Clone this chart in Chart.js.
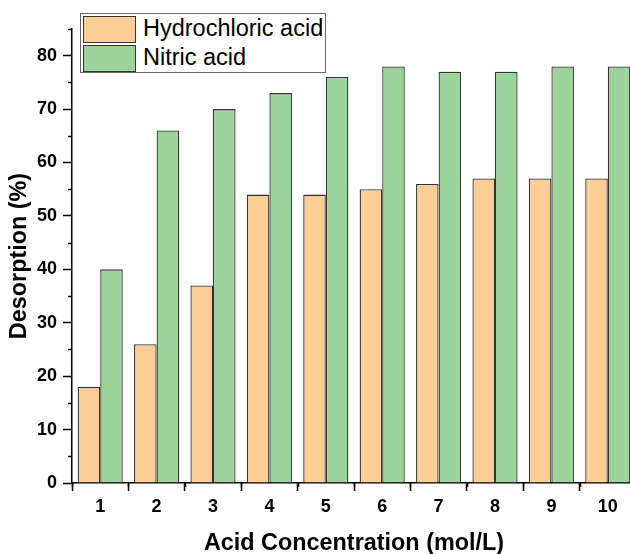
<!DOCTYPE html>
<html>
<head>
<meta charset="utf-8">
<script src="https://cdn.jsdelivr.net/npm/chart.js@4.4.1/dist/chart.umd.min.js"></script>
<style>
html, body { margin: 0; padding: 0; overflow: hidden; background: #fff; }
#wrap { position: relative; width: 636px; height: 554px; }
#legend {
    position: absolute; left: 80px; top: 13px; width: 244px; height: 58px;
    border: 1px solid #666; background: #fff;
    font-family: "Liberation Sans", Arial, sans-serif; font-size: 23.5px; color: #000;
}
.row { position: absolute; left: 2px; height: 29px; line-height: 26px; white-space: nowrap; }
.swatch { position: absolute; left: 0; top: 1px; width: 51px; height: 25px; border: 1px solid #333; }
.label { position: absolute; left: 60px; top: 0; }
</style>
</head>
<body>
<div id="wrap">
    <canvas id="chart" width="636" height="554"></canvas>
    <div id="legend"></div>
</div>
<script>
const CATEGORIES = ["1", "2", "3", "4", "5", "6", "7", "8", "9", "10"];
const HCL_VALUES = [18, 26, 37, 54, 54, 55, 56, 57, 57, 57];
const HNO3_VALUES = [40, 66, 70, 73, 76, 78, 77, 77, 78, 78];
const SERIES_LABELS = ["Hydrochloric acid", "Nitric acid"];
const Y_MINOR = [5, 15, 25, 35, 45, 55, 65, 75, 85];

const COLORS = ["rgb(252, 205, 148)", "rgb(155, 211, 155)"];
const FONT = "'Liberation Sans', Arial, sans-serif";

// short minor ticks between the labelled ones
const minorTicks = {
    id: "minorTicks",
    afterDraw(chart) {
        const {ctx, chartArea, scales: {x, y}} = chart;
        ctx.save();
        ctx.strokeStyle = "#000";
        ctx.lineWidth = 1.5;
        ctx.beginPath();
        for (const v of Y_MINOR) {
            const py = Math.round(y.getPixelForValue(v)) + 0.5;
            ctx.moveTo(chartArea.left - 4, py);
            ctx.lineTo(chartArea.left, py);
        }
        for (let i = 0; i <= CATEGORIES.length; i++) {
            const px = Math.round(x.getPixelForValue(i - 0.5)) + 0.5;
            ctx.moveTo(px, chartArea.bottom);
            ctx.lineTo(px, chartArea.bottom + 4);
        }
        ctx.stroke();
        ctx.restore();
    }
};

const chart = new Chart(document.getElementById("chart").getContext("2d"), {
    type: "bar",
    data: {
        labels: CATEGORIES,
        datasets: [
            { label: SERIES_LABELS[0], data: HCL_VALUES, backgroundColor: COLORS[0], borderColor: "#333", borderWidth: 1.3 },
            { label: SERIES_LABELS[1], data: HNO3_VALUES, backgroundColor: COLORS[1], borderColor: "#333", borderWidth: 1.3 },
        ]
    },
    options: {
        responsive: false,
        animation: false,
        categoryPercentage: 0.8,
        barPercentage: 1.0,
        layout: { padding: { top: 29, left: 0, right: 0, bottom: 0 } },
        plugins: { legend: { display: false }, tooltip: { enabled: false } },
        scales: {
            x: {
                grid: { display: true, drawOnChartArea: false, drawTicks: true, tickLength: 8, tickWidth: 1.5, tickColor: "#000" },
                border: { display: true, color: "#000", width: 1.5 },
                ticks: { color: "#000", padding: 5, maxRotation: 0, font: { family: FONT, size: 18, weight: "bold" } },
                title: { display: true, text: "Acid Concentration (mol/L)", color: "#000", padding: { top: 0, bottom: -1 }, font: { family: FONT, size: 23.4, weight: "bold", lineHeight: 1 } },
                afterFit: scale => { scale.height = 71; }
            },
            y: {
                min: 0,
                max: 85,
                grid: { display: true, drawOnChartArea: false, drawTicks: true, tickLength: 9, tickWidth: 1.5, tickColor: "#000" },
                border: { display: true, color: "#000", width: 1.5 },
                ticks: { stepSize: 10, includeBounds: false, color: "#000", padding: 6, font: { family: FONT, size: 18, weight: "bold" } },
                title: { display: true, text: "Desorption (%)", color: "#000", padding: { top: 8, bottom: 0 }, font: { family: FONT, size: 23.4, weight: "bold", lineHeight: 1 } },
                afterFit: scale => { scale.width = 72; }
            }
        }
    },
    plugins: [minorTicks]
});

// boxed legend sitting over the top-left of the plot
const legendEl = document.getElementById("legend");
chart.data.datasets.forEach((ds, i) => {
    const row = document.createElement("div");
    row.className = "row";
    row.style.top = (1 + i * 29) + "px";
    row.innerHTML = `<span class="swatch" style="background:${ds.backgroundColor}"></span><span class="label">${ds.label}</span>`;
    legendEl.appendChild(row);
});
</script>
</body>
</html>
